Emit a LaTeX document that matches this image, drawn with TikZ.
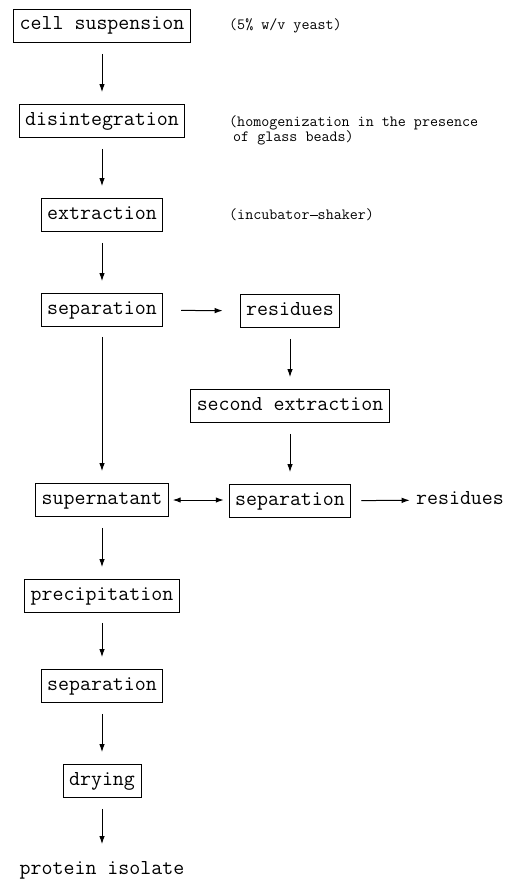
\documentclass[tikz,border=0pt]{standalone}
\usepackage{tikz}
\usetikzlibrary{arrows.meta,positioning}

\tikzset{
  stage/.style={draw,line width=0.8pt,inner xsep=6pt,inner ysep=7.5pt,
    text height=13pt,text depth=5pt,font=\ttfamily\fontsize{21.3}{24}\selectfont},
  plain/.style={stage,draw=none},
  note/.style={anchor=west,align=left,inner sep=0pt,
    font=\ttfamily\fontsize{15.6}{13}\selectfont},
  flow/.style={->,line width=1pt,shorten <=11pt,shorten >=12pt}
}
\newcommand{\ttdash}{\rule[0.24em]{0.525em}{0.07em}}

\begin{document}
\begin{tikzpicture}[>={Latex[length=8pt,width=5.5pt]},x=1pt,y=-1pt]
\useasboundingbox (0,0) rectangle (512,883);

% main line
\node[stage] (cell) at (102,26) {cell suspension};
\node[stage] (disint) at (102,121) {disintegration};
\node[stage] (extr) at (102,215) {extraction};
\node[stage] (sepA) at (102,310) {separation};
\node[stage] (super) at (102,500) {supernatant};
\node[stage] (precip) at (102,596) {precipitation};
\node[stage] (sepC) at (102,686) {separation};
\node[stage] (dry) at (102,781) {drying};
\node[plain] (isolate) at (102,870) {protein isolate};

% side line
\node[stage] (resA) at (290,311) {residues};
\node[stage] (second) at (290,406) {second extraction};
\node[stage] (sepB) at (290,501) {separation};
\node[plain] (resB) at (460,500) {residues};

% remarks
\node[note] (yeast) at (229,26) {(5\% w/v yeast)};
\node[note] (beads) at (229,130.5) {(homogenization in the presence\\\hspace{4pt}of glass beads)};
\node[note] (shaker) at (229,215) {(incubator\ttdash shaker)};

\draw[flow] (cell) -- (disint);
\draw[flow] (disint) -- (extr);
\draw[flow] (extr) -- (sepA);
\draw[flow,shorten <=10pt] (sepA) -- (super);
\draw[flow] (super) -- (precip);
\draw[flow,shorten <=10pt] (precip) -- (sepC);
\draw[flow] (sepC) -- (dry);
\draw[flow,shorten >=9pt] (dry) -- (isolate);

\draw[flow,shorten <=18pt,shorten >=17pt] (sepA) -- (resA);
\draw[flow] (resA) -- (second);
\draw[flow] (second) -- (sepB);
\draw[flow,<->,shorten <=4pt,shorten >=5pt] (super) -- (super -| sepB.west);
\draw[flow,shorten <=10pt,shorten >=0pt] (sepB) -- (resB);

\end{tikzpicture}
\end{document}
